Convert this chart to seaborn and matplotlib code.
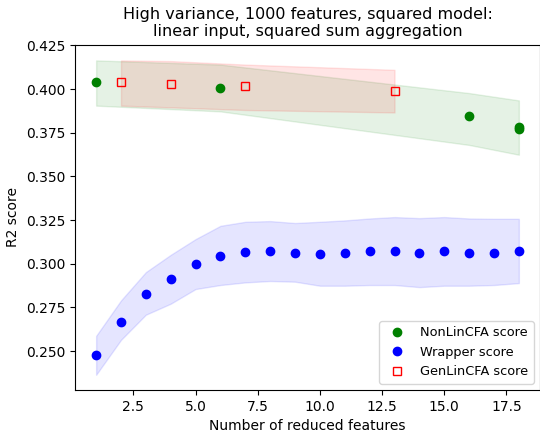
import numpy as np
import matplotlib
matplotlib.use("Agg")
import matplotlib.pyplot as plt
import seaborn as sns

# NonLinCFA results (two runs ended at 18 features)
nonlin_x = [1, 6, 16, 18, 18]
nonlin_score = [0.4040, 0.4005, 0.3843, 0.3785, 0.3770]
nonlin_low = [0.3905, 0.3872, 0.3680, 0.3624, 0.3624]
nonlin_high = [0.4164, 0.4140, 0.3977, 0.3935, 0.3935]

# Wrapper results
wrapper_x = list(range(1, 19))
wrapper_score = [0.2475, 0.2666, 0.2826, 0.2912, 0.2996, 0.3044, 0.3067, 0.3074, 0.3064,
                 0.3057, 0.3063, 0.3070, 0.3074, 0.3063, 0.3070, 0.3063, 0.3061, 0.3072]
wrapper_low = [0.2364, 0.2564, 0.2708, 0.2771, 0.2855, 0.2878, 0.2893, 0.2901, 0.2897,
               0.2874, 0.2874, 0.2878, 0.2878, 0.2866, 0.2874, 0.2874, 0.2878, 0.2889]
wrapper_high = [0.2587, 0.2790, 0.2952, 0.3051, 0.3141, 0.3217, 0.3240, 0.3244, 0.3233,
                0.3240, 0.3248, 0.3259, 0.3267, 0.3261, 0.3267, 0.3259, 0.3257, 0.3257]

# GenLinCFA results
genlin_x = [2, 4, 7, 13]
genlin_score = [0.4040, 0.4030, 0.4015, 0.3990]
genlin_low = [0.3905, 0.3895, 0.3880, 0.3866]
genlin_high = [0.4164, 0.4160, 0.4140, 0.4110]

fig = plt.figure(figsize=(5.4, 4.34), dpi=100)
ax = fig.add_axes([75 / 540, 1 - 390 / 434, 1 - 75 / 540, (390 - 44.5) / 434])

# marker-only lines so the legend looks like plt.plot(..., 'o')
sns.lineplot(x=nonlin_x, y=nonlin_score, estimator=None, sort=False, linestyle="",
             marker="o", markersize=6, color="green", mec="green", mew=1,
             label="NonLinCFA score", ax=ax)
ax.fill_between(nonlin_x, nonlin_low, nonlin_high, color="green", alpha=0.1)

sns.lineplot(x=wrapper_x, y=wrapper_score, estimator=None, sort=False, linestyle="",
             marker="o", markersize=6, color="blue", mec="blue", mew=1,
             label="Wrapper score", ax=ax)
ax.fill_between(wrapper_x, wrapper_low, wrapper_high, color="blue", alpha=0.1)

sns.lineplot(x=genlin_x, y=genlin_score, estimator=None, sort=False, linestyle="",
             marker="s", markersize=6, color="red", mfc="none", mec="red", mew=1,
             label="GenLinCFA score", ax=ax)
ax.fill_between(genlin_x, genlin_low, genlin_high, color="red", alpha=0.1)

ax.set_xlim(0.15, 18.85)
ax.set_ylim(0.2277, 0.4255)
ax.set_yticks([0.250, 0.275, 0.300, 0.325, 0.350, 0.375, 0.400, 0.425])
ax.set_xlabel("Number of reduced features")
ax.set_ylabel("R2 score")
ax.set_title("High variance, 1000 features, squared model:\nlinear input, squared sum aggregation",
             fontsize=11.5)
ax.legend(loc="lower right", fontsize=9.3)

fig.savefig("out.png", dpi=100)
